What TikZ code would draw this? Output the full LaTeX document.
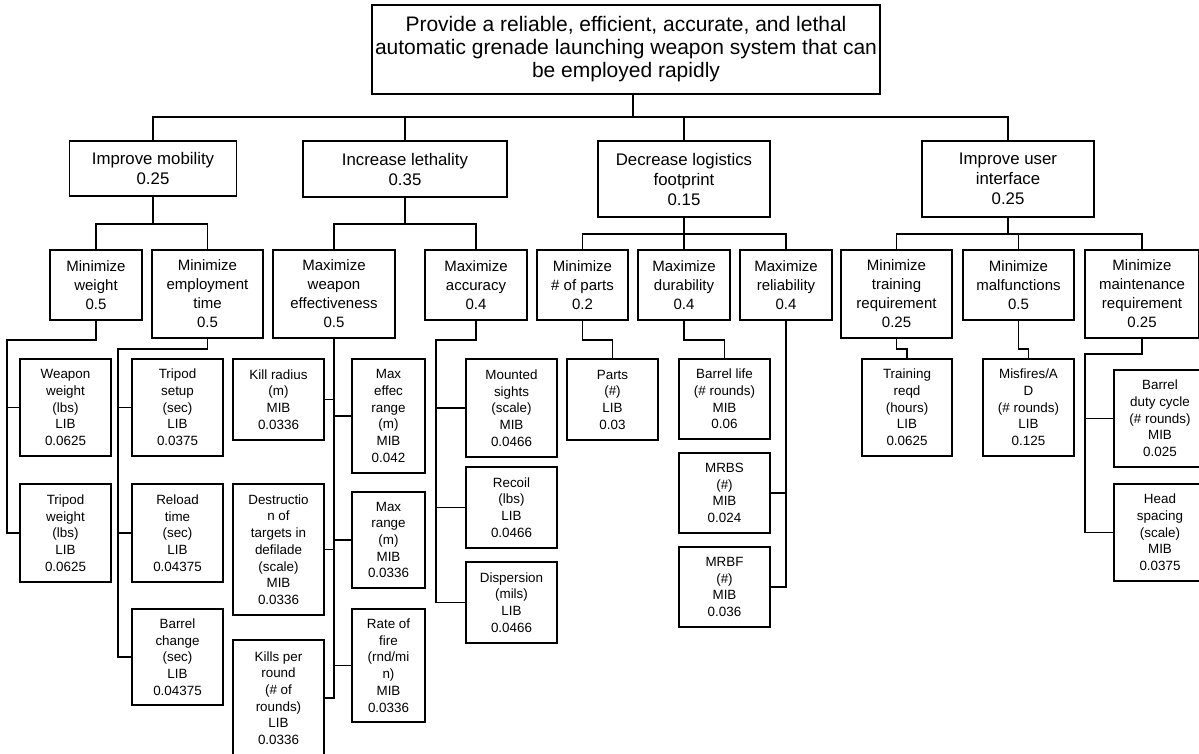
\documentclass[tikz,border=0pt]{standalone}
\usepackage{fontspec}
\setmainfont{Liberation Sans}
\usetikzlibrary{positioning}
\tikzset{
    boxsize/.style 2 args = {
        minimum width=#1pt,
        minimum height=#2pt,
        },
    goal/.style = {
        draw,
        align=center,
        inner sep=0pt,
        font=\fontsize{21}{23}\selectfont,
        },
    objective/.style = {
        draw,
        align=center,
        inner sep=0pt,
        font=\fontsize{16.8}{20}\selectfont,
        },
    subobj/.style = {
        draw,
        align=center,
        inner sep=0pt,
        font=\fontsize{15}{19}\selectfont,
        },
    measure/.style = {
        draw,
        align=center,
        inner sep=0pt,
        font=\fontsize{13.4}{16.7}\selectfont,
        boxsize={91}{97},
        },
}
\begin{document}
\begin{tikzpicture}
    [
        x=1pt, y=-1pt,
        line width=1.8pt,
    ]
    \useasboundingbox (0,0) rectangle (1199,753);

    % top goal
    \node [goal, boxsize={508}{89}] (top) at (626,49.5)
        {Provide a reliable, efficient, accurate, and lethal\\automatic grenade launching weapon system that can\\be employed rapidly};

    % objectives
    \node [objective, boxsize={167}{55}] (mob) at (153,168.5) {Improve mobility\\0.25};
    \node [objective, boxsize={204}{56}] (leth) at (405,169) {Increase lethality\\0.35};
    \node [objective, boxsize={172}{76}] (logi) at (684,179) {Decrease logistics\\footprint\\0.15};
    \node [objective, boxsize={172}{76}] (user) at (1008,179) {Improve user\\interface\\0.25};

    % sub-objectives
    \node [subobj, boxsize={92}{70}] (mw) at (96,285) {Minimize\\weight\\0.5};
    \node [subobj, boxsize={111}{88}] (met) at (207.5,294) {Minimize\\employment\\time\\0.5};
    \node [subobj, boxsize={122}{88}] (mwe) at (334,294) {Maximize\\weapon\\effectiveness\\0.5};
    \node [subobj, boxsize={102}{70}] (macc) at (476,285) {Maximize\\accuracy\\0.4};
    \node [subobj, boxsize={91}{70}] (mparts) at (582.5,285) {Minimize\\\# of parts\\0.2};
    \node [subobj, boxsize={92}{70}] (mdur) at (684,285) {Maximize\\durability\\0.4};
    \node [subobj, boxsize={92}{70}] (mrel) at (786,285) {Maximize\\reliability\\0.4};
    \node [subobj, boxsize={111}{88}] (mtrain) at (896.5,294) {Minimize\\training\\requirement\\0.25};
    \node [subobj, boxsize={111}{70}] (mmal) at (1018.5,285) {Minimize\\malfunctions\\0.5};
    \node [subobj, boxsize={114}{88}] (mmaint) at (1142,294) {Minimize\\maintenance\\requirement\\0.25};

    % measures
    \node [measure] (ww) at (65.5,407.5) {Weapon\\weight\\(lbs)\\LIB\\0.0625};
    \node [measure, boxsize={91}{98}] (tw) at (65.5,533) {Tripod\\weight\\(lbs)\\LIB\\0.0625};
    \node [measure] (ts) at (177.5,407.5) {Tripod\\setup\\(sec)\\LIB\\0.0375};
    \node [measure, boxsize={91}{98}] (rt) at (177.5,533) {Reload\\time\\(sec)\\LIB\\0.04375};
    \node [measure, boxsize={91}{96}] (bc) at (177.5,657) {Barrel\\change\\(sec)\\LIB\\0.04375};
    \node [measure, boxsize={91}{81}] (kr) at (278.5,399.5) {Kill radius\\(m)\\MIB\\0.0336};
    \node [measure, boxsize={91}{131}] (dt) at (278.5,549.5) {Destructio\\n of\\targets in\\defilade\\(scale)\\MIB\\0.0336};
    \node [measure, boxsize={91}{116}] (kp) at (278.5,698) {Kills per\\round\\(\# of\\rounds)\\LIB\\0.0336};
    \node [measure, boxsize={73}{114}] (mer) at (388.5,416) {Max\\effec\\range\\(m)\\MIB\\0.042};
    \node [measure, boxsize={73}{96}] (mr) at (388.5,540) {Max\\range\\(m)\\MIB\\0.0336};
    \node [measure, boxsize={73}{113}] (rf) at (388.5,665.5) {Rate of\\fire\\(rnd/mi\\n)\\MIB\\0.0336};
    \node [measure, boxsize={91}{98}] (ms) at (511.5,408) {Mounted\\sights\\(scale)\\MIB\\0.0466};
    \node [measure, boxsize={91}{81}] (rc) at (511.5,507.5) {Recoil\\(lbs)\\LIB\\0.0466};
    \node [measure, boxsize={91}{81}] (dp) at (511.5,602.5) {Dispersion\\(mils)\\LIB\\0.0466};
    \node [measure, boxsize={91}{81}] (pt) at (612.5,399.5) {Parts\\(\#)\\LIB\\0.03};
    \node [measure, boxsize={91}{80}] (bl) at (724.5,399) {Barrel life\\(\# rounds)\\MIB\\0.06};
    \node [measure, boxsize={91}{80}] (mrbs) at (724.5,493) {MRBS\\(\#)\\MIB\\0.024};
    \node [measure, boxsize={91}{80}] (mrbf) at (724.5,587) {MRBF\\(\#)\\MIB\\0.036};
    \node [measure, boxsize={90}{97}] (tr) at (907,407.5) {Training\\reqd\\(hours)\\LIB\\0.0625};
    \node [measure] (mf) at (1028.5,407.5) {Misfires/A\\D\\(\# rounds)\\LIB\\0.125};
    \node [measure, boxsize={92}{97}] (bd) at (1160,418.5) {Barrel\\duty cycle\\(\# rounds)\\MIB\\0.025};
    \node [measure, boxsize={92}{97}] (hs) at (1160,532.5) {Head\\spacing\\(scale)\\MIB\\0.0375};

    % buses
    \coordinate (b0) at (633,117);
    \coordinate (b1) at (153,224);
    \coordinate (b2) at (405,224);
    \coordinate (b3) at (684,234);
    \coordinate (b4) at (1008,234);

    \draw (top.south -| b0) -- (b0);
    \draw (mob.north) |- (b0) -| (user.north);
    \draw (leth.north) -- (leth.north |- b0);
    \draw (logi.north) -- (logi.north |- b0);

    \draw (mob.south) -- (b1);
    \draw (mw.north) |- (b1) -| (met.north);
    \draw (leth.south) -- (b2);
    \draw (mwe.north) |- (b2) -| (macc.north);
    \draw (logi.south) -- (mdur.north);
    \draw (mparts.north) |- (b3) -| (mrel.north);
    \draw (user.south) -- (b4);
    \draw (mtrain.north) |- (b4) -| (mmaint.north);
    \draw (mmal.north) -- (mmal.north |- b4);

    % trunks to measures
    \coordinate (t1) at (7,340);
    \coordinate (t2) at (118,349);
    \coordinate (t3) at (436,340);
    \coordinate (t4) at (1085,354);

    \draw (mw.south) |- (t1) -- (t1 |- tw.west) -- (tw.west);
    \draw (ww.west) -- (ww.west -| t1);

    \draw (met.south) |- (t2) -- (t2 |- bc.west) -- (bc.west);
    \draw (ts.west) -- (ts.west -| t2);
    \draw (rt.west) -- (rt.west -| t2);

    \draw (mwe.south) -- (mwe.south |- kp.east) -- (kp.east);
    \draw (kr.east) -- (kr.east -| mwe.south);
    \draw (dt.east) -- (dt.east -| mwe.south);
    \draw (mer.west) -- (mer.west -| mwe.south);
    \draw (mr.west) -- (mr.west -| mwe.south);
    \draw (rf.west) -- (rf.west -| mwe.south);

    \draw (macc.south) |- (t3) -- (t3 |- dp.west) -- (dp.west);
    \draw (ms.west) -- (ms.west -| t3);
    \draw (rc.west) -- (rc.west -| t3);

    \draw (mparts.south) -- ++(0,19) -| (pt.north);
    \draw (mdur.south) -- ++(0,19) -| (bl.north);
    \draw (mrel.south) |- (mrbf.east);
    \draw (mrbs.east) -- (mrbs.east -| mrel.south);

    \draw (mtrain.south) -- ++(0,10) -| (tr.north);
    \draw (mmal.south) -- ++(0,28) -| (mf.north);
    \draw (mmaint.south) |- (t4) -- (t4 |- hs.west) -- (hs.west);
    \draw (bd.west) -- (bd.west -| t4);
\end{tikzpicture}
\end{document}
